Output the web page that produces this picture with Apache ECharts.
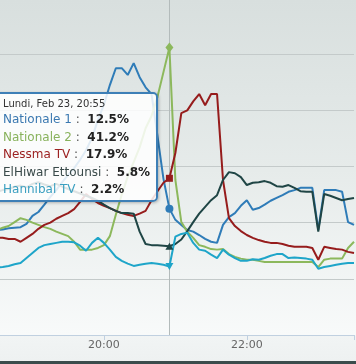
<!DOCTYPE html>
<html><head><meta charset="utf-8">
<script src="https://cdn.jsdelivr.net/npm/echarts@6/dist/echarts.min.js"></script>
<style>
html,body{margin:0;padding:0;width:356px;height:364px;overflow:hidden;}
body{background:linear-gradient(to bottom,#d8dfde 0px,#e6ebea 170px,#f8fafa 335px,#f1f4f4 336px,#eef1f1 361px,#3b4c4c 361px,#3b4c4c 364px);}
#c{width:356px;height:364px;}
</style></head><body><div id="c"></div>
<script>
// Time stamps (Lundi, Feb 23)
const times = ["18:30","18:35","18:40","18:45","18:50","18:55","19:00","19:05","19:10","19:15","19:20","19:25","19:30","19:35","19:40","19:45","19:50","19:55","20:00","20:05","20:10","20:15","20:20","20:25","20:30","20:35","20:40","20:45","20:50","20:55","21:00","21:05","21:10","21:15","21:20","21:25","21:30","21:35","21:40","21:45","21:50","21:55","22:00","22:05","22:10","22:15","22:20","22:25","22:30","22:35","22:40","22:45","22:50","22:55","23:00","23:05","23:10","23:15","23:20","23:25","23:30"];
const headerDate = "Lundi, Feb 23";
const hoverTime = "20:55";
const tickLabels = ["18:00","20:00","22:00"];

const nationale1 = [8.7,8.8,9.0,9.1,9.2,9.8,11.2,11.9,13.2,14.6,15.8,17.2,18.5,19.7,21.2,22.9,25.1,28.3,31.0,34.5,37.5,37.5,36.3,38.4,35.9,34.1,32.9,25.4,17.8,12.5,10.5,9.6,8.7,8.4,7.8,7.1,6.6,6.4,9.6,11.0,11.7,13.0,14.0,12.3,12.6,13.2,13.9,14.4,14.9,15.5,15.8,16.2,16.2,16.2,8.7,15.8,15.8,15.8,15.5,10.1,9.6];
const nationale2 = [8.7,9.1,9.4,10.1,10.8,10.5,10.0,9.6,9.2,8.9,8.4,8.0,7.6,6.6,5.2,5.2,5.2,5.5,6.0,7.6,11.4,15.0,18.2,20.8,23.4,26.8,29.0,32.4,36.8,41.2,17.6,10.1,8.4,7.3,6.0,5.7,5.3,5.2,5.3,4.4,3.9,3.6,3.4,3.4,3.2,3.0,3.0,3.0,3.0,3.0,3.0,3.0,3.0,3.0,2.1,3.4,3.6,3.6,3.6,5.5,6.6];
const nessma = [7.3,7.3,7.1,7.1,6.6,7.3,8.0,8.9,9.6,10.0,10.7,11.2,11.7,12.4,13.7,15.1,14.2,13.5,13.0,12.6,12.1,11.7,11.4,11.2,11.6,12.1,14.0,15.6,17.1,17.9,22.4,29.5,30.0,31.6,32.9,30.9,32.9,32.9,17.6,10.8,9.4,8.5,7.8,7.3,6.9,6.6,6.4,6.4,6.2,5.9,5.7,5.7,5.7,5.5,3.4,5.7,5.5,5.3,5.2,4.8,4.6];
const elhiwar = [15.5,15.8,16.0,16.4,16.6,16.3,16.9,17.2,16.8,16.5,16.9,16.4,16.0,15.6,15.2,14.8,14.4,13.9,13.2,12.6,12.1,11.7,11.7,11.6,8.4,6.2,6.0,6.0,5.9,5.8,6.2,7.0,8.5,10.1,11.6,12.8,14.0,14.9,17.6,19.0,18.8,18.1,16.7,17.1,17.2,17.4,17.1,16.5,16.4,16.7,16.2,15.6,15.5,15.5,8.4,15.1,14.8,14.4,14.0,14.2,14.4];
const hannibal = [2.0,2.1,2.3,2.6,2.8,3.7,4.6,5.5,6.0,6.2,6.4,6.6,6.6,6.5,5.9,5.0,6.4,7.3,6.4,5.2,3.9,3.2,2.7,2.3,2.5,2.7,2.8,2.7,2.5,2.2,7.5,8.0,8.2,6.4,5.2,5.0,4.3,3.7,5.2,4.3,3.7,3.2,3.2,3.5,3.4,3.7,4.1,4.4,4.4,3.7,3.8,3.7,3.6,3.4,1.8,2.1,2.3,2.5,2.7,2.8,2.8];

const seriesNames = ["Nationale 1","Nationale 2","Nessma TV","ElHiwar Ettounsi","Hannibal TV"];
const seriesData = [nationale1, nationale2, nessma, elhiwar, hannibal];
const seriesColors = ["#2f7cb8","#8cb85c","#961c1c","#1f4545","#1ea5c9"];
const nameColors = ["#3a78b0","#88b25c","#9c2222","#3a4a4a","#3a9fc0"];
const markerSymbols = ["circle","diamond","rect","triangle","path://M0,0L10,0L5,10Z"];
const markerSizes = [8,[8,10],7,[8,7],[8,7]];

function toMin(s){ const p=s.split(':'); return (parseInt(p[0])-18)*60+parseInt(p[1]); }
function fmt(m){ const h=18+Math.floor(m/60), mm=m%60; return h+':'+(mm<10?'0':'')+mm; }
const mins = times.map(toMin);
const idx = times.indexOf(hoverTime);

const chart = echarts.init(document.getElementById('c'), null, {renderer:'canvas'});
const series = seriesData.map((d,i)=>({
  name: seriesNames[i],
  type: 'line',
  data: d.map((v,j)=>[mins[j], v]),
  showSymbol: false,
  symbol: 'none',
  smooth: false,
  lineStyle: {width: 2, color: seriesColors[i]},
  itemStyle: {color: seriesColors[i]},
  emphasis: {disabled: true},
  z: 3+i,
  markPoint: {
    symbol: markerSymbols[i],
    symbolSize: markerSizes[i],
    itemStyle: {color: seriesColors[i]},
    label: {show: false},
    data: [{coord: [mins[idx], d[idx]]}],
    z: 20
  },
  markLine: i===0 ? {
    silent: true, symbol: ['none','none'],
    lineStyle: {color:'#b3bbbb', width:1, type:'solid'},
    label: {show:false},
    data: [{xAxis: mins[idx]}],
    z: 1
  } : undefined
}));

chart.setOption({
  animation: false,
  backgroundColor: 'transparent',
  textStyle: {fontFamily: 'DejaVu Sans'},
  grid: {left: -39, right: 2, top: -2, bottom: 29, containLabel: false, outerBoundsMode: 'none'},
  xAxis: {
    type: 'value', min: 0, max: 330, interval: 120,
    axisLine: {show: true, onZero: false, lineStyle: {color: '#c0d0e0', width: 1}},
    axisTick: {show: true, length: 5, lineStyle: {color: '#c0d0e0'}},
    splitLine: {show: false},
    axisLabel: {color: '#666', fontSize: 11, margin: 5, fontFamily: 'DejaVu Sans',
      formatter: v => { const s = fmt(v); return tickLabels.indexOf(s) >= 0 ? s : ''; }}
  },
  yAxis: {
    type: 'value', min: -10, max: 50, interval: 10,
    axisLine: {show: false}, axisTick: {show: false}, axisLabel: {show: false},
    splitLine: {show: true, lineStyle: {color: '#c4caca', width: 1}}
  },
  tooltip: {
    trigger: 'axis',
    axisPointer: {type: 'none'},
    alwaysShowContent: true,
    triggerOn: 'none',
    transitionDuration: 0,
    position: [-7, 92],
    backgroundColor: 'rgba(255,255,255,0.85)',
    borderColor: '#3d7fb6',
    borderWidth: 2,
    padding: [3, 6, 1, 8],
    extraCssText: 'border-radius:5px;box-shadow:1px 1px 3px rgba(0,0,0,0.25);',
    formatter: function(){
      let h = '<div style="font-family:DejaVu Sans;font-size:10px;line-height:14px;color:#333;">' + headerDate + ', ' + times[idx] + '</div>';
      seriesNames.forEach((n,i)=>{
        h += '<div style="font-family:DejaVu Sans;font-size:12px;line-height:17.5px;white-space:nowrap;">'
          + '<span style="color:' + nameColors[i] + '">' + n + '</span>'
          + '<span style="color:#555"> :&nbsp; </span>'
          + '<b style="color:#222">' + seriesData[i][idx].toFixed(1) + '%</b></div>';
      });
      return h;
    }
  },
  series: series
});
chart.dispatchAction({type: 'showTip', seriesIndex: 0, dataIndex: idx});
</script></body></html>
